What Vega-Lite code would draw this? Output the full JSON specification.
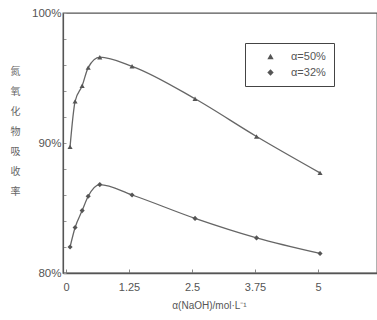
{
  "$schema": "https://vega.github.io/schema/vega-lite/v6.json",
  "autosize": {"type": "none"},
  "padding": {"left": 63, "top": 13, "right": 0, "bottom": 47},
  "width": 314,
  "height": 260,
  "background": "white",
  "config": {
    "view": {"stroke": "#555", "strokeWidth": 1.3},
    "font": "Liberation Sans"
  },
  "data": {
    "values": [
      {"x": 0.08, "y": 89.7, "s": "α=50%"},
      {"x": 0.18, "y": 93.2, "s": "α=50%"},
      {"x": 0.32, "y": 94.4, "s": "α=50%"},
      {"x": 0.44, "y": 95.8, "s": "α=50%"},
      {"x": 0.67, "y": 96.6, "s": "α=50%"},
      {"x": 1.31, "y": 95.9, "s": "α=50%"},
      {"x": 2.56, "y": 93.4, "s": "α=50%"},
      {"x": 3.78, "y": 90.5, "s": "α=50%"},
      {"x": 5.04, "y": 87.7, "s": "α=50%"},
      {"x": 0.08, "y": 82.0, "s": "α=32%"},
      {"x": 0.18, "y": 83.5, "s": "α=32%"},
      {"x": 0.32, "y": 84.8, "s": "α=32%"},
      {"x": 0.44, "y": 85.9, "s": "α=32%"},
      {"x": 0.67, "y": 86.8, "s": "α=32%"},
      {"x": 1.31, "y": 86.0, "s": "α=32%"},
      {"x": 2.56, "y": 84.2, "s": "α=32%"},
      {"x": 3.78, "y": 82.7, "s": "α=32%"},
      {"x": 5.04, "y": 81.5, "s": "α=32%"}
    ]
  },
  "encoding": {
    "x": {
      "field": "x", "type": "quantitative",
      "scale": {"domain": [-0.06, 6.17], "nice": false, "zero": false},
      "axis": {
        "values": [0, 1.25, 2.5, 3.75, 5],
        "labelExpr": "datum.value === 0 ? '0' : format(datum.value, '.3~f')",
        "grid": false,
        "domainColor": "#555", "domainWidth": 1.5,
        "tickColor": "#888", "tickSize": -4,
        "labelPadding": 12, "labelFontSize": 11, "labelColor": "#555",
        "title": "α(NaOH)/mol·L⁻¹",
        "titleFontSize": 10, "titleFontWeight": "normal", "titleColor": "#555",
        "titleX": 146, "titleY": 32, "titleBaseline": "middle"
      }
    },
    "y": {
      "field": "y", "type": "quantitative",
      "scale": {"domain": [80, 100], "nice": false, "zero": false},
      "axis": {
        "values": [80, 82, 84, 86, 88, 90, 92, 94, 96, 98, 100],
        "labelExpr": "datum.value % 10 === 0 ? datum.value + '%' : ''",
        "grid": false,
        "domainColor": "#555", "domainWidth": 1.2,
        "tickColor": "#999", "tickSize": -3,
        "labelPadding": 5, "labelFontSize": 11.5, "labelColor": "#555",
        "title": ["氮", "氧", "化", "物", "吸", "收", "率"],
        "titleAngle": 0, "titleFont": "Noto Sans CJK SC",
        "titleFontSize": 10, "titleFontWeight": "normal", "titleColor": "#666",
        "titleLineHeight": 20, "titleAlign": "center", "titleBaseline": "top",
        "titleX": -48, "titleY": 53
      }
    }
  },
  "layer": [
    {
      "mark": {"type": "line", "interpolate": "monotone", "color": "#666", "strokeWidth": 1.3},
      "encoding": {"detail": {"field": "s"}}
    },
    {
      "mark": {"type": "point", "filled": true, "color": "#555", "opacity": 1, "size": 26},
      "encoding": {
        "shape": {
          "field": "s", "type": "nominal",
          "scale": {"domain": ["α=50%", "α=32%"], "range": ["triangle-up", "diamond"]},
          "legend": {
            "title": null,
            "orient": "none", "legendX": 182, "legendY": 30,
            "direction": "vertical",
            "strokeColor": "#444", "padding": 8,
            "fillColor": "white",
            "labelFontSize": 11, "labelColor": "#555",
            "symbolSize": 40, "symbolStrokeWidth": 1, "symbolStrokeColor": "#555",
            "symbolFillColor": "#555", "symbolOffset": 12,
            "rowPadding": 4, "labelOffset": 15
          }
        }
      }
    }
  ]
}
